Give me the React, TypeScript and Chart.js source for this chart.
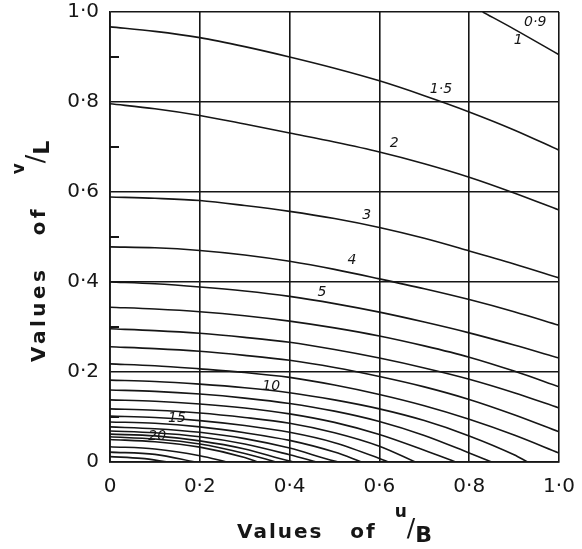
import React, { useEffect, useRef } from "react";
import { Chart, registerables } from "chart.js";

Chart.register(...registerables);

// ---- axis ticks ----
const xTickLabels = ["0", "0·2", "0·4", "0·6", "0·8", "1·0"];
const yTickLabels = ["0", "0·2", "0·4", "0·6", "0·8", "1·0"];
const yMinorTicks = [0.1, 0.3, 0.5, 0.7, 0.9];

// ---- contour lines: [u/B, v/L] pairs ----
type P = [number, number];
const c1: P[] = [[0.83, 1.0], [0.9, 0.962], [1.0, 0.905]];
const c1_5: P[] = [[0, 0.967], [0.1, 0.957], [0.2, 0.943], [0.3, 0.923], [0.4, 0.9], [0.5, 0.875], [0.6, 0.847], [0.7, 0.814], [0.8, 0.778], [0.9, 0.738], [1.0, 0.693]];
const c2: P[] = [[0, 0.796], [0.1, 0.785], [0.2, 0.77], [0.3, 0.751], [0.4, 0.731], [0.5, 0.711], [0.6, 0.689], [0.7, 0.663], [0.8, 0.633], [0.9, 0.598], [1.0, 0.56]];
const c3: P[] = [[0, 0.589], [0.1, 0.586], [0.2, 0.581], [0.3, 0.57], [0.4, 0.557], [0.5, 0.541], [0.6, 0.521], [0.7, 0.497], [0.8, 0.469], [0.9, 0.44], [1.0, 0.409]];
const c4: P[] = [[0, 0.478], [0.1, 0.476], [0.2, 0.47], [0.3, 0.46], [0.4, 0.446], [0.5, 0.428], [0.6, 0.407], [0.7, 0.385], [0.8, 0.361], [0.9, 0.334], [1.0, 0.304]];
const c5: P[] = [[0, 0.4], [0.1, 0.396], [0.2, 0.389], [0.3, 0.38], [0.4, 0.368], [0.5, 0.352], [0.6, 0.333], [0.7, 0.311], [0.8, 0.287], [0.9, 0.26], [1.0, 0.231]];
const c6: P[] = [[0, 0.344], [0.1, 0.34], [0.2, 0.334], [0.3, 0.325], [0.4, 0.313], [0.5, 0.298], [0.6, 0.28], [0.7, 0.258], [0.8, 0.233], [0.9, 0.202], [1.0, 0.167]];
const c7: P[] = [[0, 0.296], [0.1, 0.292], [0.2, 0.286], [0.3, 0.277], [0.4, 0.266], [0.5, 0.25], [0.6, 0.231], [0.7, 0.209], [0.8, 0.184], [0.9, 0.154], [1.0, 0.12]];
const c8: P[] = [[0, 0.256], [0.1, 0.252], [0.2, 0.246], [0.3, 0.237], [0.4, 0.226], [0.5, 0.21], [0.6, 0.19], [0.7, 0.167], [0.8, 0.139], [0.9, 0.105], [1.0, 0.067]];
const c9: P[] = [[0, 0.218], [0.1, 0.214], [0.2, 0.207], [0.3, 0.199], [0.4, 0.188], [0.5, 0.171], [0.6, 0.15], [0.7, 0.125], [0.8, 0.095], [0.9, 0.06], [1.0, 0.02]];
const c10: P[] = [[0, 0.182], [0.1, 0.179], [0.2, 0.173], [0.3, 0.165], [0.4, 0.154], [0.5, 0.138], [0.6, 0.118], [0.7, 0.092], [0.8, 0.058], [0.9, 0.016], [0.93, 0]];
const c11: P[] = [[0, 0.16], [0.1, 0.157], [0.2, 0.151], [0.3, 0.142], [0.4, 0.13], [0.5, 0.113], [0.6, 0.09], [0.7, 0.059], [0.8, 0.02], [0.85, 0]];
const c12: P[] = [[0, 0.138], [0.1, 0.135], [0.2, 0.129], [0.3, 0.12], [0.4, 0.107], [0.5, 0.088], [0.6, 0.061], [0.7, 0.026], [0.77, 0]];
const c13: P[] = [[0, 0.118], [0.1, 0.115], [0.2, 0.109], [0.3, 0.099], [0.4, 0.086], [0.5, 0.065], [0.6, 0.035], [0.68, 0]];
const c14: P[] = [[0, 0.102], [0.1, 0.099], [0.2, 0.092], [0.3, 0.081], [0.4, 0.066], [0.5, 0.043], [0.6, 0.008], [0.62, 0]];
const c15: P[] = [[0, 0.089], [0.1, 0.086], [0.2, 0.078], [0.3, 0.065], [0.4, 0.048], [0.5, 0.022], [0.56, 0]];
const c16: P[] = [[0, 0.078], [0.1, 0.074], [0.2, 0.066], [0.3, 0.052], [0.4, 0.031], [0.5, 0.002], [0.51, 0]];
const c17: P[] = [[0, 0.069], [0.1, 0.065], [0.2, 0.056], [0.3, 0.04], [0.4, 0.016], [0.46, 0]];
const c18: P[] = [[0, 0.062], [0.1, 0.058], [0.2, 0.047], [0.3, 0.029], [0.4, 0.002], [0.41, 0]];
const c19: P[] = [[0, 0.056], [0.1, 0.051], [0.2, 0.04], [0.3, 0.019], [0.37, 0]];
const c20: P[] = [[0, 0.05], [0.1, 0.045], [0.2, 0.033], [0.3, 0.01], [0.33, 0]];
const c25: P[] = [[0, 0.034], [0.1, 0.029], [0.2, 0.014], [0.26, 0]];
const c30: P[] = [[0, 0.022], [0.1, 0.017], [0.19, 0]];
const c40: P[] = [[0, 0.012], [0.07, 0.008], [0.13, 0]];

const contours: P[][] = [c1, c1_5, c2, c3, c4, c5, c6, c7, c8, c9, c10, c11, c12, c13, c14, c15, c16, c17, c18, c19, c20, c25, c30, c40];

// ---- contour labels (text, u/B, v/L) ----
const labelText = ["0·9", "1", "1·5", "2", "3", "4", "5", "10", "15", "20"];
const labelU = [0.947, 0.909, 0.737, 0.633, 0.572, 0.539, 0.472, 0.359, 0.149, 0.105];
const labelV = [0.976, 0.938, 0.827, 0.709, 0.547, 0.447, 0.378, 0.169, 0.096, 0.058];

const INK = "#161616";
const FONT = "'DejaVu Sans', sans-serif";

function drawTitle(ctx: CanvasRenderingContext2D, x0: number, y0: number, main: string, sup: string, sub: string, size: number, spacing: number) {
  const c: any = ctx;
  c.letterSpacing = `${spacing}px`;
  ctx.textAlign = "left";
  ctx.textBaseline = "alphabetic";
  ctx.font = `bold ${size}px ${FONT}`;
  ctx.fillText(main, x0, y0);
  let x = x0 + ctx.measureText(main).width;
  c.letterSpacing = "0px";
  ctx.font = `bold ${Math.round(size * 0.85)}px ${FONT}`;
  ctx.fillText(sup, x, y0 - size * 1.05);
  x += ctx.measureText(sup).width;
  ctx.font = `${Math.round(size * 1.25)}px ${FONT}`;
  ctx.fillText("/", x, y0 - size * 0.1);
  x += ctx.measureText("/").width;
  ctx.font = `bold ${Math.round(size * 1.1)}px ${FONT}`;
  ctx.fillText(sub, x, y0 + size * 0.2);
}

const overlay = {
  id: "overlay",
  afterDraw(chart: any) {
    const { ctx, chartArea } = chart;
    const xs = chart.scales.x;
    const ys = chart.scales.y;
    ctx.save();
    ctx.strokeStyle = INK;
    ctx.lineWidth = 2;
    yMinorTicks.forEach((v) => {
      const py = ys.getPixelForValue(v);
      ctx.beginPath();
      ctx.moveTo(chartArea.left, py);
      ctx.lineTo(chartArea.left + 9, py);
      ctx.stroke();
    });
    ctx.fillStyle = INK;
    ctx.font = `italic 14px ${FONT}`;
    ctx.textAlign = "center";
    ctx.textBaseline = "middle";
    labelText.forEach((t, i) => {
      ctx.fillText(t, xs.getPixelForValue(labelU[i]), ys.getPixelForValue(labelV[i]));
    });
    drawTitle(ctx, 237, 538, "Values   of  ", "u", "B", 20, 2);
    ctx.translate(45, 362);
    ctx.rotate(-Math.PI / 2);
    drawTitle(ctx, 0, 0, "Values   of   ", "v", "L", 20, 3.5);
    ctx.restore();
  },
};

function noPad(s: any) {
  s.paddingTop = 0;
  s.paddingBottom = 0;
  s.paddingLeft = 0;
  s.paddingRight = 0;
}

export default function App() {
  const ref = useRef<HTMLCanvasElement>(null);
  useEffect(() => {
    document.body.style.margin = "0";
    const canvas = ref.current!;
    const chart = new Chart(canvas, {
      type: "scatter",
      data: {
        datasets: contours.map((pts) => ({
          data: pts.map(([u, v]) => ({ x: u, y: v })),
          showLine: true,
          borderColor: INK,
          borderWidth: 1.6,
          pointRadius: 0,
          fill: false,
          cubicInterpolationMode: "monotone" as const,
        })),
      },
      options: {
        responsive: false,
        animation: false,
        devicePixelRatio: 1,
        layout: { padding: { top: 12, right: 23, bottom: 0, left: 0 } },
        plugins: { legend: { display: false }, tooltip: { enabled: false } },
        scales: {
          x: {
            type: "linear",
            min: 0,
            max: 1,
            afterFit: (s: any) => { s.height = 87; noPad(s); },
            ticks: {
              stepSize: 0.2,
              padding: 13,
              color: INK,
              font: { family: FONT, size: 20 },
              callback: (val: any) => xTickLabels[Math.round(Number(val) * 5)],
            },
            grid: { color: INK, lineWidth: 1.6, drawTicks: false },
            border: { display: true, color: INK, width: 1.8 },
          },
          y: {
            type: "linear",
            min: 0,
            max: 1,
            afterFit: (s: any) => { s.width = 110; noPad(s); },
            ticks: {
              stepSize: 0.2,
              padding: 11,
              color: INK,
              font: { family: FONT, size: 20 },
              callback: (val: any) => yTickLabels[Math.round(Number(val) * 5)],
            },
            grid: { color: INK, lineWidth: 1.6, drawTicks: false },
            border: { display: true, color: INK, width: 1.8 },
          },
        },
      },
      plugins: [overlay],
    });
    return () => chart.destroy();
  }, []);
  return (
    <div style={{ width: 582, height: 549 }}>
      <canvas ref={ref} width={582} height={549} style={{ display: "block" }} />
    </div>
  );
}
